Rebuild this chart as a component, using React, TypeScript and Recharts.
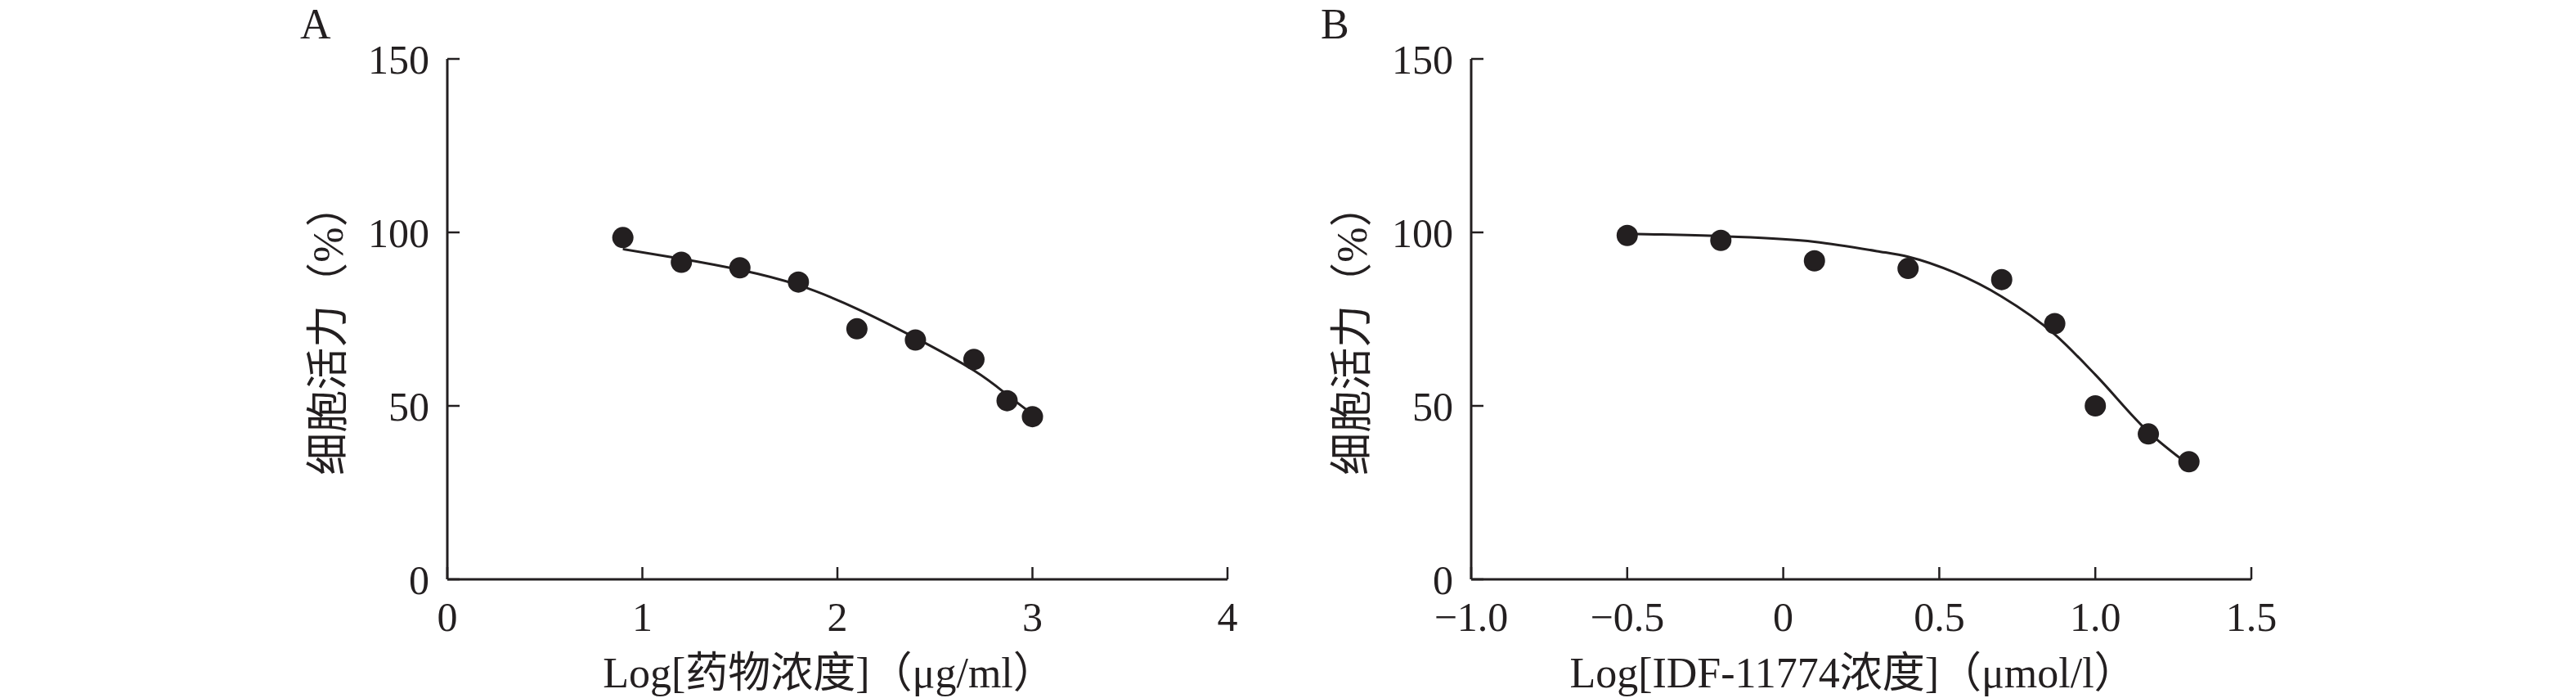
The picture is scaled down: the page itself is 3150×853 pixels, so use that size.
import { ComposedChart, Line, Scatter, XAxis, YAxis } from "recharts";

const INK = "#231f20";
const FONT = "'Liberation Serif', 'Noto Sans CJK SC', serif";
const TICK_FONT = 50;
const TITLE_FONT = 52;

// Panel A: drug dose (log µg/ml) vs viability
const aDoseLog = [0.9, 1.2, 1.5, 1.8, 2.1, 2.4, 2.7, 2.87, 3.0];
const aViability = [98.5, 91.4, 89.8, 85.7, 72.2, 69.0, 63.4, 51.5, 46.9];
const aFitLog = [0.9, 1.2, 1.5, 1.8, 2.1, 2.4, 2.7, 2.87, 3.0];
const aFitViability = [95.2, 92.4, 89.2, 84.8, 78.0, 69.6, 60.2, 53.2, 47.6];
const aXTicks = [0, 1, 2, 3, 4];
const aXTickLabels = ["0", "1", "2", "3", "4"];

// Panel B: IDF-11774 dose (log µmol/l) vs viability
const bDoseLog = [-0.5, -0.2, 0.1, 0.4, 0.7, 0.87, 1.0, 1.17, 1.3];
const bViability = [99.1, 97.7, 91.8, 89.6, 86.4, 73.7, 50.0, 41.9, 33.9];
const bFitLog = [-0.5, -0.2, 0.1, 0.3, 0.4, 0.55, 0.7, 0.87, 1.0, 1.17, 1.3];
const bFitViability = [99.6, 98.9, 97.3, 94.6, 93.0, 88.4, 81.5, 70.6, 59.0, 42.5, 33.0];
const bXTicks = [-1, -0.5, 0, 0.5, 1, 1.5];
const bXTickLabels = ["\u22121.0", "\u22120.5", "0", "0.5", "1.0", "1.5"];

const yTicks = [0, 50, 100, 150];
const yTickLabels = ["0", "50", "100", "150"];

const yTitle = "细胞活力（%）";
const aXTitle = "Log[药物浓度]（μg/ml）";
const bXTitle = "Log[IDF-11774浓度]（μmol/l）";

const toPoints = (xs: number[], ys: number[]) => xs.map((x, i) => ({ x, y: ys[i] }));

// layout
const PANEL_W = 1575;
const HEIGHT = 853;
const PLOT_TOP = 72;
const PLOT_BOTTOM = 708;
const TICK_LEN = 15;

function LeftTick({ x, y, payload }: any) {
  const i = yTicks.indexOf(payload.value);
  return (
    <g>
      <line x1={x} x2={x + TICK_LEN} y1={y} y2={y} stroke={INK} strokeWidth={2.5} />
      <text x={x - 22} y={y} dy={18} textAnchor="end" fontSize={TICK_FONT} fontFamily={FONT} fill={INK}>
        {yTickLabels[i] ?? payload.value}
      </text>
    </g>
  );
}

function makeBottomTick(ticks: number[], labels: string[]) {
  return function BottomTick({ x, y, payload }: any) {
    const i = ticks.indexOf(payload.value);
    return (
      <g>
        <line x1={x} x2={x} y1={y} y2={y - TICK_LEN} stroke={INK} strokeWidth={2.5} />
        <text x={x} y={y} dy={63} textAnchor="middle" fontSize={TICK_FONT} fontFamily={FONT} fill={INK}>
          {labels[i] ?? payload.value}
        </text>
      </g>
    );
  };
}

const Dot = (props: any) => <circle cx={props.cx} cy={props.cy} r={13} fill={INK} />;

interface PanelProps {
  left: number;
  plotLeft: number;
  plotRight: number;
  letter: string;
  letterX: number;
  xTitle: string;
  xDomain: [number, number];
  xTicks: number[];
  xTickLabels: string[];
  points: { x: number; y: number }[];
  fit: { x: number; y: number }[];
  curve: "natural" | "monotone";
}

function Panel({ left, plotLeft, plotRight, letter, letterX, xTitle, xDomain, xTicks, xTickLabels, points, fit, curve }: PanelProps) {
  const BottomTick = makeBottomTick(xTicks, xTickLabels);
  const plotMid = (plotLeft + plotRight) / 2;
  const yMid = (PLOT_TOP + PLOT_BOTTOM) / 2 + 13;
  const yTitleX = plotLeft - 146;
  return (
    <div style={{ position: "absolute", left, top: 0, width: PANEL_W, height: HEIGHT }}>
      <ComposedChart
        width={PANEL_W}
        height={HEIGHT}
        margin={{ top: PLOT_TOP, right: PANEL_W - plotRight, bottom: 0, left: 0 }}
      >
        <XAxis
          type="number"
          dataKey="x"
          domain={xDomain}
          ticks={xTicks}
          interval={0}
          height={HEIGHT - PLOT_BOTTOM}
          tickSize={0}
          tickMargin={0}
          tickLine={false}
          tick={<BottomTick />}
          axisLine={{ stroke: INK, strokeWidth: 3 }}
          allowDataOverflow
        />
        <YAxis
          type="number"
          dataKey="y"
          domain={[0, 150]}
          ticks={yTicks}
          interval={0}
          width={plotLeft}
          tickSize={0}
          tickMargin={0}
          tickLine={false}
          tick={<LeftTick />}
          axisLine={{ stroke: INK, strokeWidth: 3 }}
          allowDataOverflow
        />
        <Line
          data={fit}
          dataKey="y"
          type={curve}
          stroke={INK}
          strokeWidth={3}
          dot={false}
          activeDot={false}
          isAnimationActive={false}
        />
        <Scatter data={points} dataKey="y" fill={INK} shape={<Dot />} isAnimationActive={false} />
      </ComposedChart>
      <svg
        width={PANEL_W}
        height={HEIGHT}
        style={{ position: "absolute", left: 0, top: 0, pointerEvents: "none" }}
      >
        <text x={letterX} y={47} fontSize={TITLE_FONT} fontFamily={FONT} fill={INK}>
          {letter}
        </text>
        <text
          x={plotMid - 10}
          y={PLOT_BOTTOM + 132}
          textAnchor="middle"
          fontSize={TITLE_FONT}
          fontFamily={FONT}
          fill={INK}
        >
          {xTitle}
        </text>
        <text
          x={yTitleX}
          y={yMid}
          textAnchor="middle"
          dominantBaseline="central"
          transform={`rotate(-90 ${yTitleX} ${yMid})`}
          fontSize={TITLE_FONT}
          fontFamily={FONT}
          fill={INK}
        >
          {yTitle}
        </text>
      </svg>
    </div>
  );
}

export default function App() {
  return (
    <div style={{ position: "absolute", left: 0, top: 0, width: 3150, height: HEIGHT, background: "#fff" }}>
      <Panel
        left={0}
        plotLeft={547}
        plotRight={1501}
        letter="A"
        letterX={367}
        xTitle={aXTitle}
        xDomain={[0, 4]}
        xTicks={aXTicks}
        xTickLabels={aXTickLabels}
        points={toPoints(aDoseLog, aViability)}
        fit={toPoints(aFitLog, aFitViability)}
        curve="natural"
      />
      <Panel
        left={PANEL_W}
        plotLeft={1799 - PANEL_W}
        plotRight={2753 - PANEL_W}
        letter="B"
        letterX={1615 - PANEL_W}
        xTitle={bXTitle}
        xDomain={[-1, 1.5]}
        xTicks={bXTicks}
        xTickLabels={bXTickLabels}
        points={toPoints(bDoseLog, bViability)}
        fit={toPoints(bFitLog, bFitViability)}
        curve="monotone"
      />
    </div>
  );
}
